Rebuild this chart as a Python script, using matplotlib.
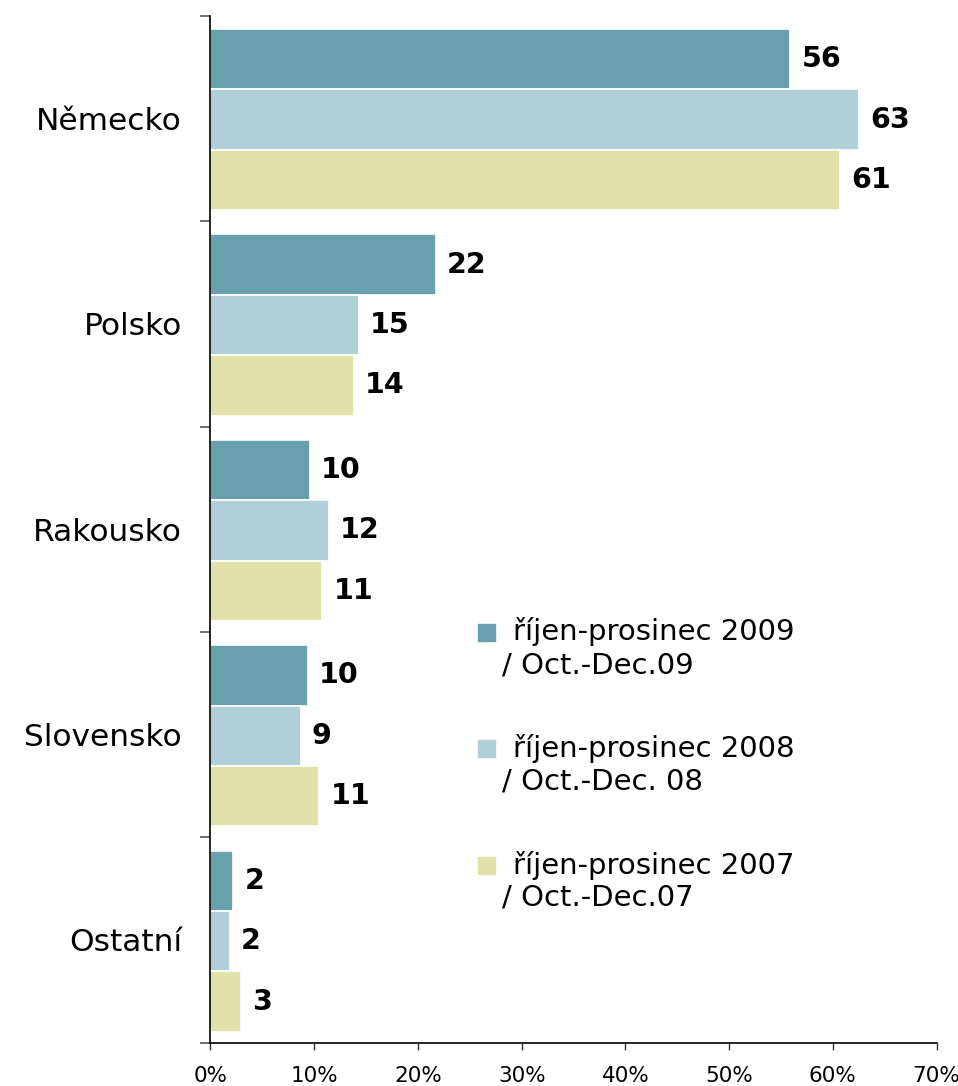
import numpy as np
import matplotlib.pyplot as plt
from matplotlib.patches import Rectangle

# data
zeme = ["Německo", "Polsko", "Rakousko", "Slovensko", "Ostatní"]
val_2009 = [55.9, 21.7, 9.6, 9.4, 2.2]
val_2008 = [62.5, 14.3, 11.4, 8.7, 1.85]
val_2007 = [60.7, 13.8, 10.8, 10.5, 2.9]
lab_2009 = ["56", "22", "10", "10", "2"]
lab_2008 = ["63", "15", "12", "9", "2"]
lab_2007 = ["61", "14", "11", "11", "3"]
legend_1 = ["říjen-prosinec 2009", "říjen-prosinec 2008", "říjen-prosinec 2007"]
legend_2 = ["/ Oct.-Dec.09", "/ Oct.-Dec. 08", "/ Oct.-Dec.07"]
barvy = ["#68A0AD", "#B1CFD7", "#E1E1AA"]

plt.rcParams['font.family'] = ['DejaVu Sans']

fig = plt.figure(figsize=(9.58, 10.86), dpi=100)
ax = fig.add_axes([0.2197, 0.0399, 0.9776 - 0.2197, 0.9855 - 0.0399])

y = np.arange(len(zeme))
h = 0.294
serie = [(val_2009, lab_2009), (val_2008, lab_2008), (val_2007, lab_2007)]
for i, (vals, labs) in enumerate(serie):
    pos = y + (i - 1) * h + 0.006
    bars = ax.barh(pos, vals, height=h, color=barvy[i], edgecolor="white", linewidth=1.2)
    for b, t in zip(bars, labs):
        ax.annotate(t, (b.get_width(), b.get_y() + b.get_height() / 2),
                    xytext=(8, 0), textcoords="offset points",
                    ha="left", va="center", fontsize=20.5, fontweight="bold")

ax.set_xlim(0, 70)
ax.set_ylim(len(zeme) - 0.5, -0.5)
ax.set_xticks(np.arange(0, 71, 10))
ax.set_xticklabels(["%d%%" % v for v in range(0, 71, 10)], fontsize=15.5)
ax.set_yticks(np.arange(-0.5, len(zeme), 1))
ax.set_yticklabels([])
ax.set_yticks(y, minor=True)
ax.set_yticklabels(zeme, minor=True, fontsize=22.5)
ax.tick_params(axis="y", which="minor", length=0, pad=20.5)
ax.tick_params(axis="y", which="major", length=7.2, width=1.2, color="#555555")
ax.tick_params(axis="x", length=5, width=1, color="#333333", pad=11.5)

for s in ["top", "right"]:
    ax.spines[s].set_visible(False)
ax.spines["left"].set_linewidth(1.2)
ax.spines["bottom"].set_linewidth(1.2)

# legenda
for i in range(3):
    ytop = 632 + i * 116.5
    fig.patches.append(Rectangle((478 / 958, 1 - (ytop + 8.5) / 1086), 17 / 958, 17 / 1086,
                                 transform=fig.transFigure, color=barvy[i]))
    fig.text(513 / 958, 1 - ytop / 1086, legend_1[i], fontsize=21, va="center", ha="left")
    fig.text(502 / 958, 1 - (ytop + 33) / 1086, legend_2[i], fontsize=21, va="center", ha="left")

fig.savefig("out.png", dpi=100)
